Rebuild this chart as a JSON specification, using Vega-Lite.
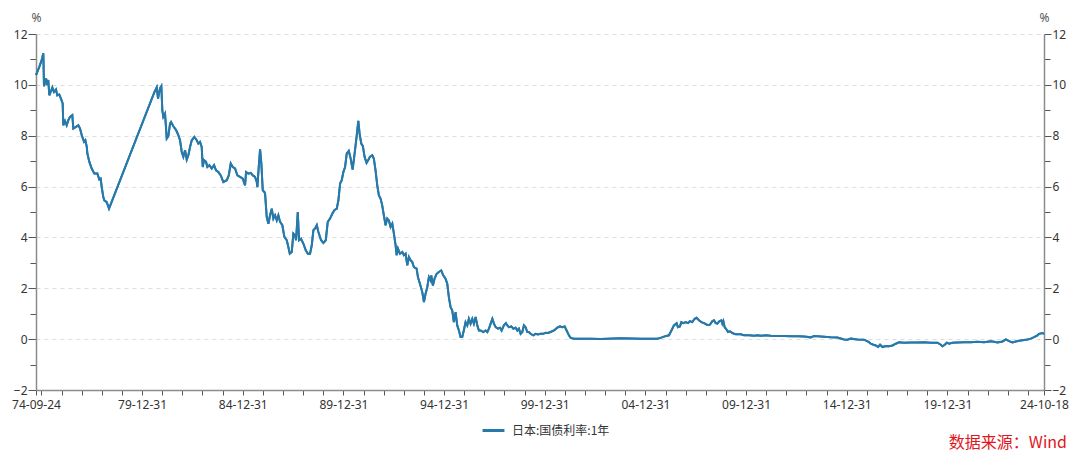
{
  "$schema": "https://vega.github.io/schema/vega-lite/v6.json",
  "width": 1008,
  "height": 356,
  "autosize": {"type": "none"},
  "padding": {"left": 36, "top": 34, "right": 36, "bottom": 72},
  "background": "white",
  "config": {
    "font": "Noto Sans",
    "view": {"stroke": null},
    "axis": {
      "domainColor": "#8c8c8c",
      "domainWidth": 1.5,
      "tickColor": "#555555",
      "labelColor": "#333333",
      "labelFont": "Noto Sans",
      "labelFontSize": 12,
      "titleFont": "Noto Sans",
      "titleFontSize": 12,
      "titleFontWeight": "normal",
      "titleColor": "#555555"
    }
  },
  "title": {
    "text": "数据来源：Wind",
    "orient": "bottom",
    "anchor": "end",
    "frame": "group",
    "font": "Noto Sans CJK SC",
    "fontSize": 16,
    "fontWeight": "normal",
    "color": "#e0161e",
    "dx": 23,
    "offset": -2
  },
  "data": {
    "values": [
      {"d": "1974-09-24", "v": 10.38}, {"d": "1974-11-23", "v": 10.71}, {"d": "1975-01-05", "v": 10.97}, {"d": "1975-02-04", "v": 11.24},
      {"d": "1975-02-16", "v": 9.95}, {"d": "1975-03-25", "v": 10.25}, {"d": "1975-04-17", "v": 9.99}, {"d": "1975-05-05", "v": 10.19},
      {"d": "1975-05-23", "v": 9.59}, {"d": "1975-06-18", "v": 9.72}, {"d": "1975-07-17", "v": 9.90}, {"d": "1975-08-16", "v": 9.72},
      {"d": "1975-09-22", "v": 9.82}, {"d": "1975-10-15", "v": 9.59}, {"d": "1975-11-20", "v": 9.62}, {"d": "1975-12-21", "v": 9.46},
      {"d": "1976-01-21", "v": 9.27}, {"d": "1976-02-01", "v": 8.41}, {"d": "1976-03-03", "v": 8.58}, {"d": "1976-04-03", "v": 8.41},
      {"d": "1976-05-02", "v": 8.61}, {"d": "1976-06-02", "v": 8.74}, {"d": "1976-07-14", "v": 8.81}, {"d": "1976-08-01", "v": 8.28},
      {"d": "1976-09-19", "v": 8.35}, {"d": "1976-10-31", "v": 8.41}, {"d": "1976-12-01", "v": 8.28}, {"d": "1977-01-01", "v": 8.02},
      {"d": "1977-02-12", "v": 7.76}, {"d": "1977-03-07", "v": 7.82}, {"d": "1977-04-02", "v": 7.56}, {"d": "1977-04-13", "v": 7.30},
      {"d": "1977-05-19", "v": 6.97}, {"d": "1977-07-01", "v": 6.71}, {"d": "1977-08-17", "v": 6.51}, {"d": "1977-10-11", "v": 6.51},
      {"d": "1977-11-16", "v": 6.28}, {"d": "1977-12-11", "v": 6.31}, {"d": "1977-12-29", "v": 5.98}, {"d": "1978-01-27", "v": 5.59},
      {"d": "1978-02-14", "v": 5.46}, {"d": "1978-03-30", "v": 5.39}, {"d": "1978-05-11", "v": 5.13},
      {"d": "1980-08-09", "v": 9.70}, {"d": "1980-09-22", "v": 9.90}, {"d": "1980-10-16", "v": 9.46}, {"d": "1980-11-21", "v": 9.86},
      {"d": "1980-12-15", "v": 9.95}, {"d": "1981-01-02", "v": 9.00}, {"d": "1981-01-20", "v": 8.74}, {"d": "1981-02-20", "v": 8.87},
      {"d": "1981-03-23", "v": 7.89}, {"d": "1981-04-21", "v": 7.98}, {"d": "1981-05-22", "v": 8.48}, {"d": "1981-06-09", "v": 8.54},
      {"d": "1981-07-21", "v": 8.37}, {"d": "1981-09-08", "v": 8.22}, {"d": "1981-10-19", "v": 8.02}, {"d": "1981-11-19", "v": 7.82},
      {"d": "1981-12-20", "v": 7.36}, {"d": "1982-01-18", "v": 7.17}, {"d": "1982-02-18", "v": 7.43}, {"d": "1982-03-21", "v": 7.06},
      {"d": "1982-04-19", "v": 7.23}, {"d": "1982-05-20", "v": 7.56}, {"d": "1982-06-20", "v": 7.82}, {"d": "1982-08-06", "v": 7.95},
      {"d": "1982-09-18", "v": 7.82}, {"d": "1982-10-17", "v": 7.69}, {"d": "1982-11-17", "v": 7.76}, {"d": "1982-12-17", "v": 7.56},
      {"d": "1983-01-05", "v": 6.77}, {"d": "1983-01-28", "v": 7.04}, {"d": "1983-03-06", "v": 6.97}, {"d": "1983-03-29", "v": 6.77},
      {"d": "1983-05-05", "v": 6.84}, {"d": "1983-06-17", "v": 6.71}, {"d": "1983-07-29", "v": 6.84}, {"d": "1983-09-03", "v": 6.64},
      {"d": "1983-10-15", "v": 6.57}, {"d": "1983-11-28", "v": 6.44}, {"d": "1984-01-14", "v": 6.18}, {"d": "1984-03-16", "v": 6.25},
      {"d": "1984-04-21", "v": 6.44}, {"d": "1984-05-27", "v": 6.91}, {"d": "1984-07-02", "v": 6.77}, {"d": "1984-08-13", "v": 6.71},
      {"d": "1984-09-24", "v": 6.44}, {"d": "1984-11-12", "v": 6.38}, {"d": "1984-12-31", "v": 6.31}, {"d": "1985-02-11", "v": 6.05},
      {"d": "1985-03-01", "v": 6.57}, {"d": "1985-04-12", "v": 6.51}, {"d": "1985-05-25", "v": 6.54}, {"d": "1985-07-01", "v": 6.44},
      {"d": "1985-08-11", "v": 6.38}, {"d": "1985-09-11", "v": 6.18}, {"d": "1985-09-22", "v": 5.98}, {"d": "1985-10-17", "v": 6.77},
      {"d": "1985-11-10", "v": 7.46}, {"d": "1985-12-03", "v": 6.91}, {"d": "1985-12-29", "v": 5.85}, {"d": "1986-01-27", "v": 5.79},
      {"d": "1986-02-09", "v": 5.72}, {"d": "1986-03-11", "v": 4.80}, {"d": "1986-04-10", "v": 4.54}, {"d": "1986-05-10", "v": 4.87},
      {"d": "1986-06-10", "v": 5.13}, {"d": "1986-07-09", "v": 4.74}, {"d": "1986-08-09", "v": 4.87}, {"d": "1986-09-09", "v": 4.67},
      {"d": "1986-10-08", "v": 4.87}, {"d": "1986-11-08", "v": 4.61}, {"d": "1986-12-19", "v": 4.48}, {"d": "1987-01-25", "v": 4.02},
      {"d": "1987-03-09", "v": 3.89}, {"d": "1987-04-07", "v": 3.62}, {"d": "1987-05-03", "v": 3.36}, {"d": "1987-06-08", "v": 3.43},
      {"d": "1987-07-07", "v": 4.15}, {"d": "1987-08-07", "v": 4.08}, {"d": "1987-08-25", "v": 3.89}, {"d": "1987-09-25", "v": 5.00},
      {"d": "1987-10-18", "v": 3.89}, {"d": "1987-11-23", "v": 3.95}, {"d": "1988-01-04", "v": 3.76}, {"d": "1988-02-17", "v": 3.49},
      {"d": "1988-03-25", "v": 3.36}, {"d": "1988-05-05", "v": 3.36}, {"d": "1988-06-05", "v": 3.69}, {"d": "1988-07-04", "v": 4.28},
      {"d": "1988-08-04", "v": 4.35}, {"d": "1988-09-04", "v": 4.48}, {"d": "1988-10-03", "v": 4.21}, {"d": "1988-11-21", "v": 3.89},
      {"d": "1989-01-02", "v": 3.78}, {"d": "1989-02-14", "v": 3.89}, {"d": "1989-03-22", "v": 4.61}, {"d": "1989-05-03", "v": 4.74},
      {"d": "1989-06-14", "v": 4.94}, {"d": "1989-07-20", "v": 5.07}, {"d": "1989-09-02", "v": 5.13}, {"d": "1989-10-01", "v": 5.46},
      {"d": "1989-11-01", "v": 6.12}, {"d": "1989-12-01", "v": 6.25}, {"d": "1989-12-30", "v": 6.57}, {"d": "1990-01-30", "v": 6.77},
      {"d": "1990-03-02", "v": 7.30}, {"d": "1990-04-08", "v": 7.40}, {"d": "1990-05-10", "v": 7.12}, {"d": "1990-06-16", "v": 6.67},
      {"d": "1990-07-22", "v": 7.30}, {"d": "1990-08-27", "v": 7.95}, {"d": "1990-09-27", "v": 8.58}, {"d": "1990-10-20", "v": 8.09},
      {"d": "1990-11-20", "v": 7.69}, {"d": "1990-12-19", "v": 7.59}, {"d": "1991-01-19", "v": 7.17}, {"d": "1991-02-24", "v": 6.93},
      {"d": "1991-03-27", "v": 7.04}, {"d": "1991-04-25", "v": 7.17}, {"d": "1991-06-07", "v": 7.23}, {"d": "1991-07-06", "v": 7.10},
      {"d": "1991-08-06", "v": 6.64}, {"d": "1991-09-06", "v": 6.05}, {"d": "1991-10-05", "v": 5.66}, {"d": "1991-11-05", "v": 5.53},
      {"d": "1991-12-05", "v": 5.26}, {"d": "1992-01-04", "v": 4.87}, {"d": "1992-02-04", "v": 4.48}, {"d": "1992-03-05", "v": 4.74},
      {"d": "1992-04-04", "v": 4.67}, {"d": "1992-05-05", "v": 4.41}, {"d": "1992-06-05", "v": 4.54}, {"d": "1992-07-04", "v": 4.15},
      {"d": "1992-08-04", "v": 3.69}, {"d": "1992-08-22", "v": 3.30}, {"d": "1992-09-15", "v": 3.56}, {"d": "1992-10-21", "v": 3.36},
      {"d": "1992-12-03", "v": 3.43}, {"d": "1993-01-01", "v": 3.30}, {"d": "1993-02-01", "v": 3.36}, {"d": "1993-03-04", "v": 2.90},
      {"d": "1993-04-02", "v": 3.23}, {"d": "1993-05-03", "v": 3.10}, {"d": "1993-06-03", "v": 3.03}, {"d": "1993-07-02", "v": 2.83},
      {"d": "1993-08-20", "v": 2.77}, {"d": "1993-09-13", "v": 2.44}, {"d": "1993-10-19", "v": 2.18}, {"d": "1993-12-01", "v": 1.85},
      {"d": "1993-12-31", "v": 1.46}, {"d": "1994-01-30", "v": 1.79}, {"d": "1994-03-02", "v": 2.05}, {"d": "1994-03-31", "v": 2.44},
      {"d": "1994-05-01", "v": 2.31}, {"d": "1994-05-13", "v": 2.51}, {"d": "1994-06-12", "v": 2.11}, {"d": "1994-07-12", "v": 2.38},
      {"d": "1994-08-18", "v": 2.57}, {"d": "1994-09-28", "v": 2.64}, {"d": "1994-11-10", "v": 2.70}, {"d": "1994-12-16", "v": 2.51},
      {"d": "1995-01-27", "v": 2.38}, {"d": "1995-02-27", "v": 2.18}, {"d": "1995-03-28", "v": 1.65}, {"d": "1995-04-28", "v": 1.26},
      {"d": "1995-05-28", "v": 1.13}, {"d": "1995-06-27", "v": 0.67}, {"d": "1995-07-28", "v": 1.06}, {"d": "1995-08-27", "v": 0.54},
      {"d": "1995-09-26", "v": 0.34}, {"d": "1995-10-27", "v": 0.08}, {"d": "1995-11-26", "v": 0.08}, {"d": "1995-12-25", "v": 0.35},
      {"d": "1996-01-25", "v": 0.67}, {"d": "1996-02-25", "v": 0.54}, {"d": "1996-03-25", "v": 0.80}, {"d": "1996-04-25", "v": 0.61},
      {"d": "1996-05-26", "v": 0.80}, {"d": "1996-06-24", "v": 0.61}, {"d": "1996-07-25", "v": 0.87}, {"d": "1996-08-25", "v": 0.54},
      {"d": "1996-09-23", "v": 0.34}, {"d": "1996-10-24", "v": 0.34}, {"d": "1996-12-12", "v": 0.28}, {"d": "1997-01-23", "v": 0.34},
      {"d": "1997-02-23", "v": 0.28}, {"d": "1997-03-24", "v": 0.41}, {"d": "1997-04-24", "v": 0.61}, {"d": "1997-05-25", "v": 0.80},
      {"d": "1997-06-23", "v": 0.61}, {"d": "1997-07-24", "v": 0.47}, {"d": "1997-09-03", "v": 0.41}, {"d": "1997-10-10", "v": 0.45},
      {"d": "1997-11-09", "v": 0.34}, {"d": "1997-12-21", "v": 0.54}, {"d": "1998-01-26", "v": 0.63}, {"d": "1998-02-21", "v": 0.54},
      {"d": "1998-03-21", "v": 0.47}, {"d": "1998-05-04", "v": 0.50}, {"d": "1998-06-10", "v": 0.41}, {"d": "1998-07-21", "v": 0.45},
      {"d": "1998-08-21", "v": 0.34}, {"d": "1998-09-19", "v": 0.41}, {"d": "1998-10-20", "v": 0.21}, {"d": "1998-11-20", "v": 0.28},
      {"d": "1998-12-19", "v": 0.54}, {"d": "1999-01-18", "v": 0.47}, {"d": "1999-02-18", "v": 0.28}, {"d": "1999-03-18", "v": 0.28},
      {"d": "1999-04-18", "v": 0.21}, {"d": "1999-06-06", "v": 0.15}, {"d": "1999-07-18", "v": 0.21}, {"d": "1999-08-29", "v": 0.18},
      {"d": "1999-10-17", "v": 0.21}, {"d": "1999-12-05", "v": 0.21}, {"d": "2000-01-16", "v": 0.25}, {"d": "2000-02-26", "v": 0.24},
      {"d": "2000-04-16", "v": 0.28}, {"d": "2000-06-16", "v": 0.34}, {"d": "2000-08-16", "v": 0.45}, {"d": "2000-10-03", "v": 0.50},
      {"d": "2000-11-15", "v": 0.47}, {"d": "2000-12-27", "v": 0.50}, {"d": "2001-02-01", "v": 0.34}, {"d": "2001-03-14", "v": 0.15},
      {"d": "2001-04-14", "v": 0.05}, {"d": "2001-06-13", "v": 0.02}, {"d": "2002-04-13", "v": 0.02}, {"d": "2002-10-11", "v": 0.01},
      {"d": "2003-10-08", "v": 0.04}, {"d": "2004-10-05", "v": 0.02}, {"d": "2005-08-04", "v": 0.02}, {"d": "2005-10-03", "v": 0.05},
      {"d": "2005-12-02", "v": 0.10}, {"d": "2006-03-03", "v": 0.15}, {"d": "2006-04-03", "v": 0.28}, {"d": "2006-05-03", "v": 0.41},
      {"d": "2006-06-01", "v": 0.54}, {"d": "2006-07-20", "v": 0.63}, {"d": "2006-08-13", "v": 0.47}, {"d": "2006-09-18", "v": 0.50},
      {"d": "2006-10-14", "v": 0.67}, {"d": "2006-11-19", "v": 0.63}, {"d": "2006-12-31", "v": 0.67}, {"d": "2007-02-11", "v": 0.63},
      {"d": "2007-03-18", "v": 0.71}, {"d": "2007-05-01", "v": 0.67}, {"d": "2007-06-12", "v": 0.80}, {"d": "2007-07-18", "v": 0.84},
      {"d": "2007-08-29", "v": 0.74}, {"d": "2007-10-12", "v": 0.67}, {"d": "2007-11-28", "v": 0.63}, {"d": "2008-01-29", "v": 0.56},
      {"d": "2008-03-16", "v": 0.57}, {"d": "2008-04-29", "v": 0.71}, {"d": "2008-05-28", "v": 0.74}, {"d": "2008-06-28", "v": 0.63},
      {"d": "2008-07-29", "v": 0.61}, {"d": "2008-08-26", "v": 0.69}, {"d": "2008-10-09", "v": 0.74}, {"d": "2008-10-27", "v": 0.61},
      {"d": "2008-11-14", "v": 0.71}, {"d": "2008-12-08", "v": 0.47}, {"d": "2009-01-13", "v": 0.37}, {"d": "2009-02-06", "v": 0.28},
      {"d": "2009-03-14", "v": 0.31}, {"d": "2009-04-27", "v": 0.24}, {"d": "2009-06-26", "v": 0.19}, {"d": "2009-09-25", "v": 0.19},
      {"d": "2009-11-24", "v": 0.15}, {"d": "2010-02-22", "v": 0.15}, {"d": "2010-05-24", "v": 0.13}, {"d": "2010-07-25", "v": 0.15},
      {"d": "2010-09-23", "v": 0.13}, {"d": "2010-12-23", "v": 0.15}, {"d": "2011-03-24", "v": 0.13}, {"d": "2011-07-23", "v": 0.12},
      {"d": "2011-11-19", "v": 0.12}, {"d": "2012-03-20", "v": 0.11}, {"d": "2012-07-19", "v": 0.11}, {"d": "2012-11-16", "v": 0.10},
      {"d": "2013-03-18", "v": 0.07}, {"d": "2013-05-17", "v": 0.12}, {"d": "2013-09-16", "v": 0.10}, {"d": "2014-03-16", "v": 0.07},
      {"d": "2014-07-16", "v": 0.06}, {"d": "2014-11-13", "v": -0.01}, {"d": "2015-01-14", "v": -0.02}, {"d": "2015-03-14", "v": 0.02},
      {"d": "2015-07-13", "v": -0.01}, {"d": "2015-11-10", "v": -0.02}, {"d": "2016-02-09", "v": -0.12}, {"d": "2016-03-11", "v": -0.18},
      {"d": "2016-04-29", "v": -0.22}, {"d": "2016-06-10", "v": -0.25}, {"d": "2016-07-22", "v": -0.31}, {"d": "2016-08-27", "v": -0.22},
      {"d": "2016-10-10", "v": -0.31}, {"d": "2016-12-09", "v": -0.27}, {"d": "2017-02-07", "v": -0.28}, {"d": "2017-04-10", "v": -0.25},
      {"d": "2017-06-09", "v": -0.18}, {"d": "2017-08-08", "v": -0.12}, {"d": "2017-11-06", "v": -0.14}, {"d": "2018-03-07", "v": -0.13},
      {"d": "2018-07-06", "v": -0.13}, {"d": "2018-11-03", "v": -0.12}, {"d": "2019-03-05", "v": -0.14}, {"d": "2019-07-04", "v": -0.14},
      {"d": "2019-09-02", "v": -0.22}, {"d": "2019-10-03", "v": -0.28}, {"d": "2019-11-14", "v": -0.22}, {"d": "2019-12-20", "v": -0.14},
      {"d": "2020-01-31", "v": -0.18}, {"d": "2020-04-02", "v": -0.14}, {"d": "2020-07-01", "v": -0.13}, {"d": "2020-10-29", "v": -0.12},
      {"d": "2021-02-28", "v": -0.12}, {"d": "2021-06-29", "v": -0.10}, {"d": "2021-10-27", "v": -0.12}, {"d": "2022-02-26", "v": -0.08},
      {"d": "2022-04-27", "v": -0.10}, {"d": "2022-06-27", "v": -0.13}, {"d": "2022-09-26", "v": -0.09}, {"d": "2022-11-25", "v": -0.01},
      {"d": "2023-01-24", "v": -0.08}, {"d": "2023-03-26", "v": -0.13}, {"d": "2023-05-25", "v": -0.09}, {"d": "2023-08-24", "v": -0.05},
      {"d": "2023-12-23", "v": -0.01}, {"d": "2024-02-22", "v": 0.02}, {"d": "2024-04-21", "v": 0.08}, {"d": "2024-06-22", "v": 0.15},
      {"d": "2024-07-21", "v": 0.21}, {"d": "2024-09-21", "v": 0.24}, {"d": "2024-10-18", "v": 0.21}
    ]
  },
  "encoding": {
    "x": {
      "field": "d",
      "type": "temporal",
      "scale": {"type": "utc", "domain": [{"year": 1974, "month": 9, "date": 24, "utc": true}, {"year": 2024, "month": 10, "date": 18, "utc": true}]},
      "axis": {
        "title": null,
        "grid": false,
        "tickSize": 5,
        "labelPadding": 4,
        "labelOverlap": false,
        "labelBound": false,
        "labelFlush": false,
        "values": [
          {"year": 1974, "month": 9, "date": 24, "utc": true},
          {"year": 1974, "month": 12, "date": 31, "utc": true}, {"year": 1975, "month": 12, "date": 31, "utc": true},
          {"year": 1976, "month": 12, "date": 31, "utc": true}, {"year": 1977, "month": 12, "date": 31, "utc": true},
          {"year": 1978, "month": 12, "date": 31, "utc": true}, {"year": 1979, "month": 12, "date": 31, "utc": true},
          {"year": 1980, "month": 12, "date": 31, "utc": true}, {"year": 1981, "month": 12, "date": 31, "utc": true},
          {"year": 1982, "month": 12, "date": 31, "utc": true}, {"year": 1983, "month": 12, "date": 31, "utc": true},
          {"year": 1984, "month": 12, "date": 31, "utc": true}, {"year": 1985, "month": 12, "date": 31, "utc": true},
          {"year": 1986, "month": 12, "date": 31, "utc": true}, {"year": 1987, "month": 12, "date": 31, "utc": true},
          {"year": 1988, "month": 12, "date": 31, "utc": true}, {"year": 1989, "month": 12, "date": 31, "utc": true},
          {"year": 1990, "month": 12, "date": 31, "utc": true}, {"year": 1991, "month": 12, "date": 31, "utc": true},
          {"year": 1992, "month": 12, "date": 31, "utc": true}, {"year": 1993, "month": 12, "date": 31, "utc": true},
          {"year": 1994, "month": 12, "date": 31, "utc": true}, {"year": 1995, "month": 12, "date": 31, "utc": true},
          {"year": 1996, "month": 12, "date": 31, "utc": true}, {"year": 1997, "month": 12, "date": 31, "utc": true},
          {"year": 1998, "month": 12, "date": 31, "utc": true}, {"year": 1999, "month": 12, "date": 31, "utc": true},
          {"year": 2000, "month": 12, "date": 31, "utc": true}, {"year": 2001, "month": 12, "date": 31, "utc": true},
          {"year": 2002, "month": 12, "date": 31, "utc": true}, {"year": 2003, "month": 12, "date": 31, "utc": true},
          {"year": 2004, "month": 12, "date": 31, "utc": true}, {"year": 2005, "month": 12, "date": 31, "utc": true},
          {"year": 2006, "month": 12, "date": 31, "utc": true}, {"year": 2007, "month": 12, "date": 31, "utc": true},
          {"year": 2008, "month": 12, "date": 31, "utc": true}, {"year": 2009, "month": 12, "date": 31, "utc": true},
          {"year": 2010, "month": 12, "date": 31, "utc": true}, {"year": 2011, "month": 12, "date": 31, "utc": true},
          {"year": 2012, "month": 12, "date": 31, "utc": true}, {"year": 2013, "month": 12, "date": 31, "utc": true},
          {"year": 2014, "month": 12, "date": 31, "utc": true}, {"year": 2015, "month": 12, "date": 31, "utc": true},
          {"year": 2016, "month": 12, "date": 31, "utc": true}, {"year": 2017, "month": 12, "date": 31, "utc": true},
          {"year": 2018, "month": 12, "date": 31, "utc": true}, {"year": 2019, "month": 12, "date": 31, "utc": true},
          {"year": 2020, "month": 12, "date": 31, "utc": true}, {"year": 2021, "month": 12, "date": 31, "utc": true},
          {"year": 2022, "month": 12, "date": 31, "utc": true}, {"year": 2023, "month": 12, "date": 31, "utc": true},
          {"year": 2024, "month": 10, "date": 18, "utc": true}
        ],
        "labelExpr": "(utcmonth(datum.value) != 11) || (utcyear(datum.value) % 5 == 4 && utcyear(datum.value) > 1974) ? utcFormat(datum.value, '%y-%m-%d') : ''"
      }
    }
  },
  "layer": [
    {
      "mark": {"type": "line", "strokeWidth": 2, "interpolate": "linear"},
      "encoding": {
        "y": {
          "field": "v",
          "type": "quantitative",
          "scale": {"domain": [-2, 12], "nice": false, "zero": false},
          "axis": {
            "orient": "left",
            "title": "%",
            "titleAngle": 0,
            "titleX": 0,
            "titleY": -17,
            "titleAlign": "center",
            "titleBaseline": "middle",
            "values": [-2, -1, 0, 1, 2, 3, 4, 5, 6, 7, 8, 9, 10, 11, 12],
            "labelExpr": "datum.value % 2 == 0 ? datum.label : ''",
            "labelPadding": 1,
            "tickSize": {"condition": {"test": "datum.value % 2 != 0", "value": 6}, "value": 8},
            "grid": true,
            "gridColor": "#dddddd",
            "gridDash": [4, 4],
            "gridWidth": 1,
            "gridOpacity": {"condition": {"test": "datum.value % 2 != 0 || datum.value == -2", "value": 0}, "value": 1}
          }
        },
        "color": {
          "datum": "日本:国债利率:1年",
          "type": "nominal",
          "scale": {"range": ["#2779aa"]},
          "legend": {
            "title": null,
            "orient": "none",
            "legendX": 445,
            "legendY": 384,
            "symbolType": "stroke",
            "symbolSize": 480,
            "symbolStrokeWidth": 3,
            "labelFont": "Noto Sans CJK SC",
            "labelFontSize": 12,
            "labelColor": "#333333",
            "labelOffset": 6
          }
        }
      }
    },
    {
      "mark": {"type": "line", "strokeWidth": 2, "color": "#2779aa"},
      "encoding": {
        "y": {
          "field": "v",
          "type": "quantitative",
          "scale": {"domain": [-2, 12], "nice": false, "zero": false},
          "axis": {
            "orient": "right",
            "title": "%",
            "titleAngle": 0,
            "titleX": 0,
            "titleY": -17,
            "titleAlign": "center",
            "titleBaseline": "middle",
            "values": [-2, -1, 0, 1, 2, 3, 4, 5, 6, 7, 8, 9, 10, 11, 12],
            "labelExpr": "datum.value % 2 == 0 ? datum.label : ''",
            "labelPadding": 1,
            "tickSize": {"condition": {"test": "datum.value % 2 != 0", "value": 6}, "value": 7},
            "grid": false
          }
        }
      }
    }
  ],
  "resolve": {"scale": {"y": "independent"}}
}
